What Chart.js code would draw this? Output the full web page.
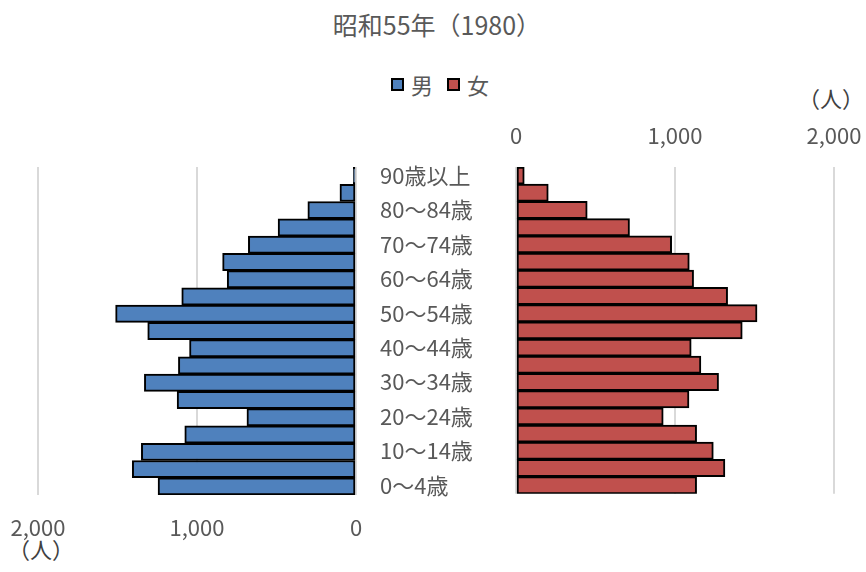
<!DOCTYPE html>
<html lang="ja">
<head>
<meta charset="utf-8">
<title>昭和55年（1980）</title>
<script src="https://cdn.jsdelivr.net/npm/chart.js@4/dist/chart.umd.min.js"></script>
<style>
  body { margin: 0; background: #fff; font-family: "Noto Sans CJK JP", "Noto Sans", sans-serif; color: #595959; }
  #wrap { position: relative; width: 866px; height: 572px; overflow: hidden; }
  #title { position: absolute; left: 4px; top: 7px; width: 866px; text-align: center; font-size: 25px; line-height: 34px; }
  #legend { position: absolute; left: 391px; top: 69px; display: flex; align-items: center; font-size: 22px; line-height: 30px; }
  #legend .box { width: 9px; height: 9px; border: 2px solid #000; margin-right: 7px; }
  #legend .item { display: flex; align-items: center; margin-right: 14px; }
  .unit { position: absolute; font-size: 22px; line-height: 28px; color: #404040; }
  canvas { position: absolute; }
</style>
</head>
<body>
<div id="wrap">
  <div id="title">昭和55年（1980）</div>
  <div id="legend">
    <div class="item"><div class="box" style="background:#4F81BD"></div>男</div>
    <div class="item"><div class="box" style="background:#C0504D"></div>女</div>
  </div>
  <div class="unit" style="right:2px; top:83px;">（人）</div>
  <div class="unit" style="left:8px; top:534px;">（人）</div>
  <canvas id="maleChart" width="380" height="422" style="left:0; top:150px;"></canvas>
  <canvas id="femaleChart" width="496" height="410" style="left:370px; top:100px;"></canvas>
</div>

<script>
// ========== DATA ==========
const ages = ['0〜4歳', '5〜9歳', '10〜14歳', '15〜19歳', '20〜24歳', '25〜29歳', '30〜34歳',
  '35〜39歳', '40〜44歳', '45〜49歳', '50〜54歳', '55〜59歳', '60〜64歳', '65〜69歳',
  '70〜74歳', '75〜79歳', '80〜84歳', '85〜89歳', '90歳以上'];
const male = [1245, 1407, 1350, 1077, 686, 1125, 1331, 1117, 1047, 1310, 1512, 1096, 810, 839, 677, 490, 303, 101, 17];
const female = [1136, 1314, 1241, 1136, 926, 1088, 1274, 1163, 1102, 1423, 1516, 1331, 1117, 1090, 979, 714, 448, 203, 52];
const xTicks = [0, 1000, 2000];

const FONT = '"Noto Sans CJK JP", "Noto Sans", sans-serif';
const TEXT = '#595959';
const GRID = '#d9d9d9';

function fmt(v) {
  return v.toLocaleString('en-US');
}

// x軸の高さを固定して、端のラベル用の余白は使わない
function fixX(h) {
  return s => {
    s.height = h;
    s.paddingLeft = 0;
    s.paddingRight = 0;
  };
}

// ========== LEFT (男) ==========
new Chart(document.getElementById('maleChart'), {
  type: 'bar',
  data: {
    labels: ages,
    datasets: [{
      label: '男',
      data: male,
      backgroundColor: '#4F81BD',
      borderColor: '#000',
      borderWidth: 2,
      borderSkipped: false,
      categoryPercentage: 1,
      barPercentage: 1
    }]
  },
  options: {
    indexAxis: 'y',
    responsive: false,
    animation: false,
    layout: { padding: { left: 38, right: 24, top: 17, bottom: 17 } },
    plugins: { legend: { display: false }, tooltip: { enabled: false } },
    scales: {
      x: {
        min: 0, max: 2000,
        reverse: true,
        position: 'bottom',
        afterBuildTicks: s => { s.ticks = xTicks.map(v => ({ value: v })); },
        afterFit: fixX(60),
        grid: { color: GRID, lineWidth: 2, drawTicks: false },
        border: { display: false },
        ticks: { padding: 19, color: TEXT, font: { family: FONT, size: 22 }, callback: v => fmt(v), maxRotation: 0 }
      },
      y: {
        display: false,
        reverse: true
      }
    }
  }
});

// ========== RIGHT (女) ==========
new Chart(document.getElementById('femaleChart'), {
  type: 'bar',
  data: {
    labels: ages,
    datasets: [{
      label: '女',
      data: female,
      backgroundColor: '#C0504D',
      borderColor: '#000',
      borderWidth: 2,
      borderSkipped: false,
      categoryPercentage: 1,
      barPercentage: 1
    }]
  },
  options: {
    indexAxis: 'y',
    responsive: false,
    animation: false,
    layout: { padding: { left: 10, right: 32, top: 17, bottom: 15 } },
    plugins: { legend: { display: false }, tooltip: { enabled: false } },
    scales: {
      x: {
        min: 0, max: 2000,
        position: 'top',
        afterBuildTicks: s => { s.ticks = xTicks.map(v => ({ value: v })); },
        afterFit: fixX(50),
        grid: { color: GRID, lineWidth: 2, drawTicks: false },
        border: { display: false },
        ticks: { padding: 18, color: TEXT, font: { family: FONT, size: 22 }, callback: v => fmt(v), maxRotation: 0 }
      },
      y: {
        position: 'left',
        reverse: true,
        afterFit: s => { s.width = 136; },
        grid: { display: false },
        border: { display: false },
        ticks: {
          autoSkip: false,
          crossAlign: 'far',
          color: TEXT,
          font: { family: FONT, size: 22 },
          // 1つおきに表示
          callback: (v, i) => (i % 2 === 0 ? ages[i] : '')
        }
      }
    }
  }
});
</script>
</body>
</html>
